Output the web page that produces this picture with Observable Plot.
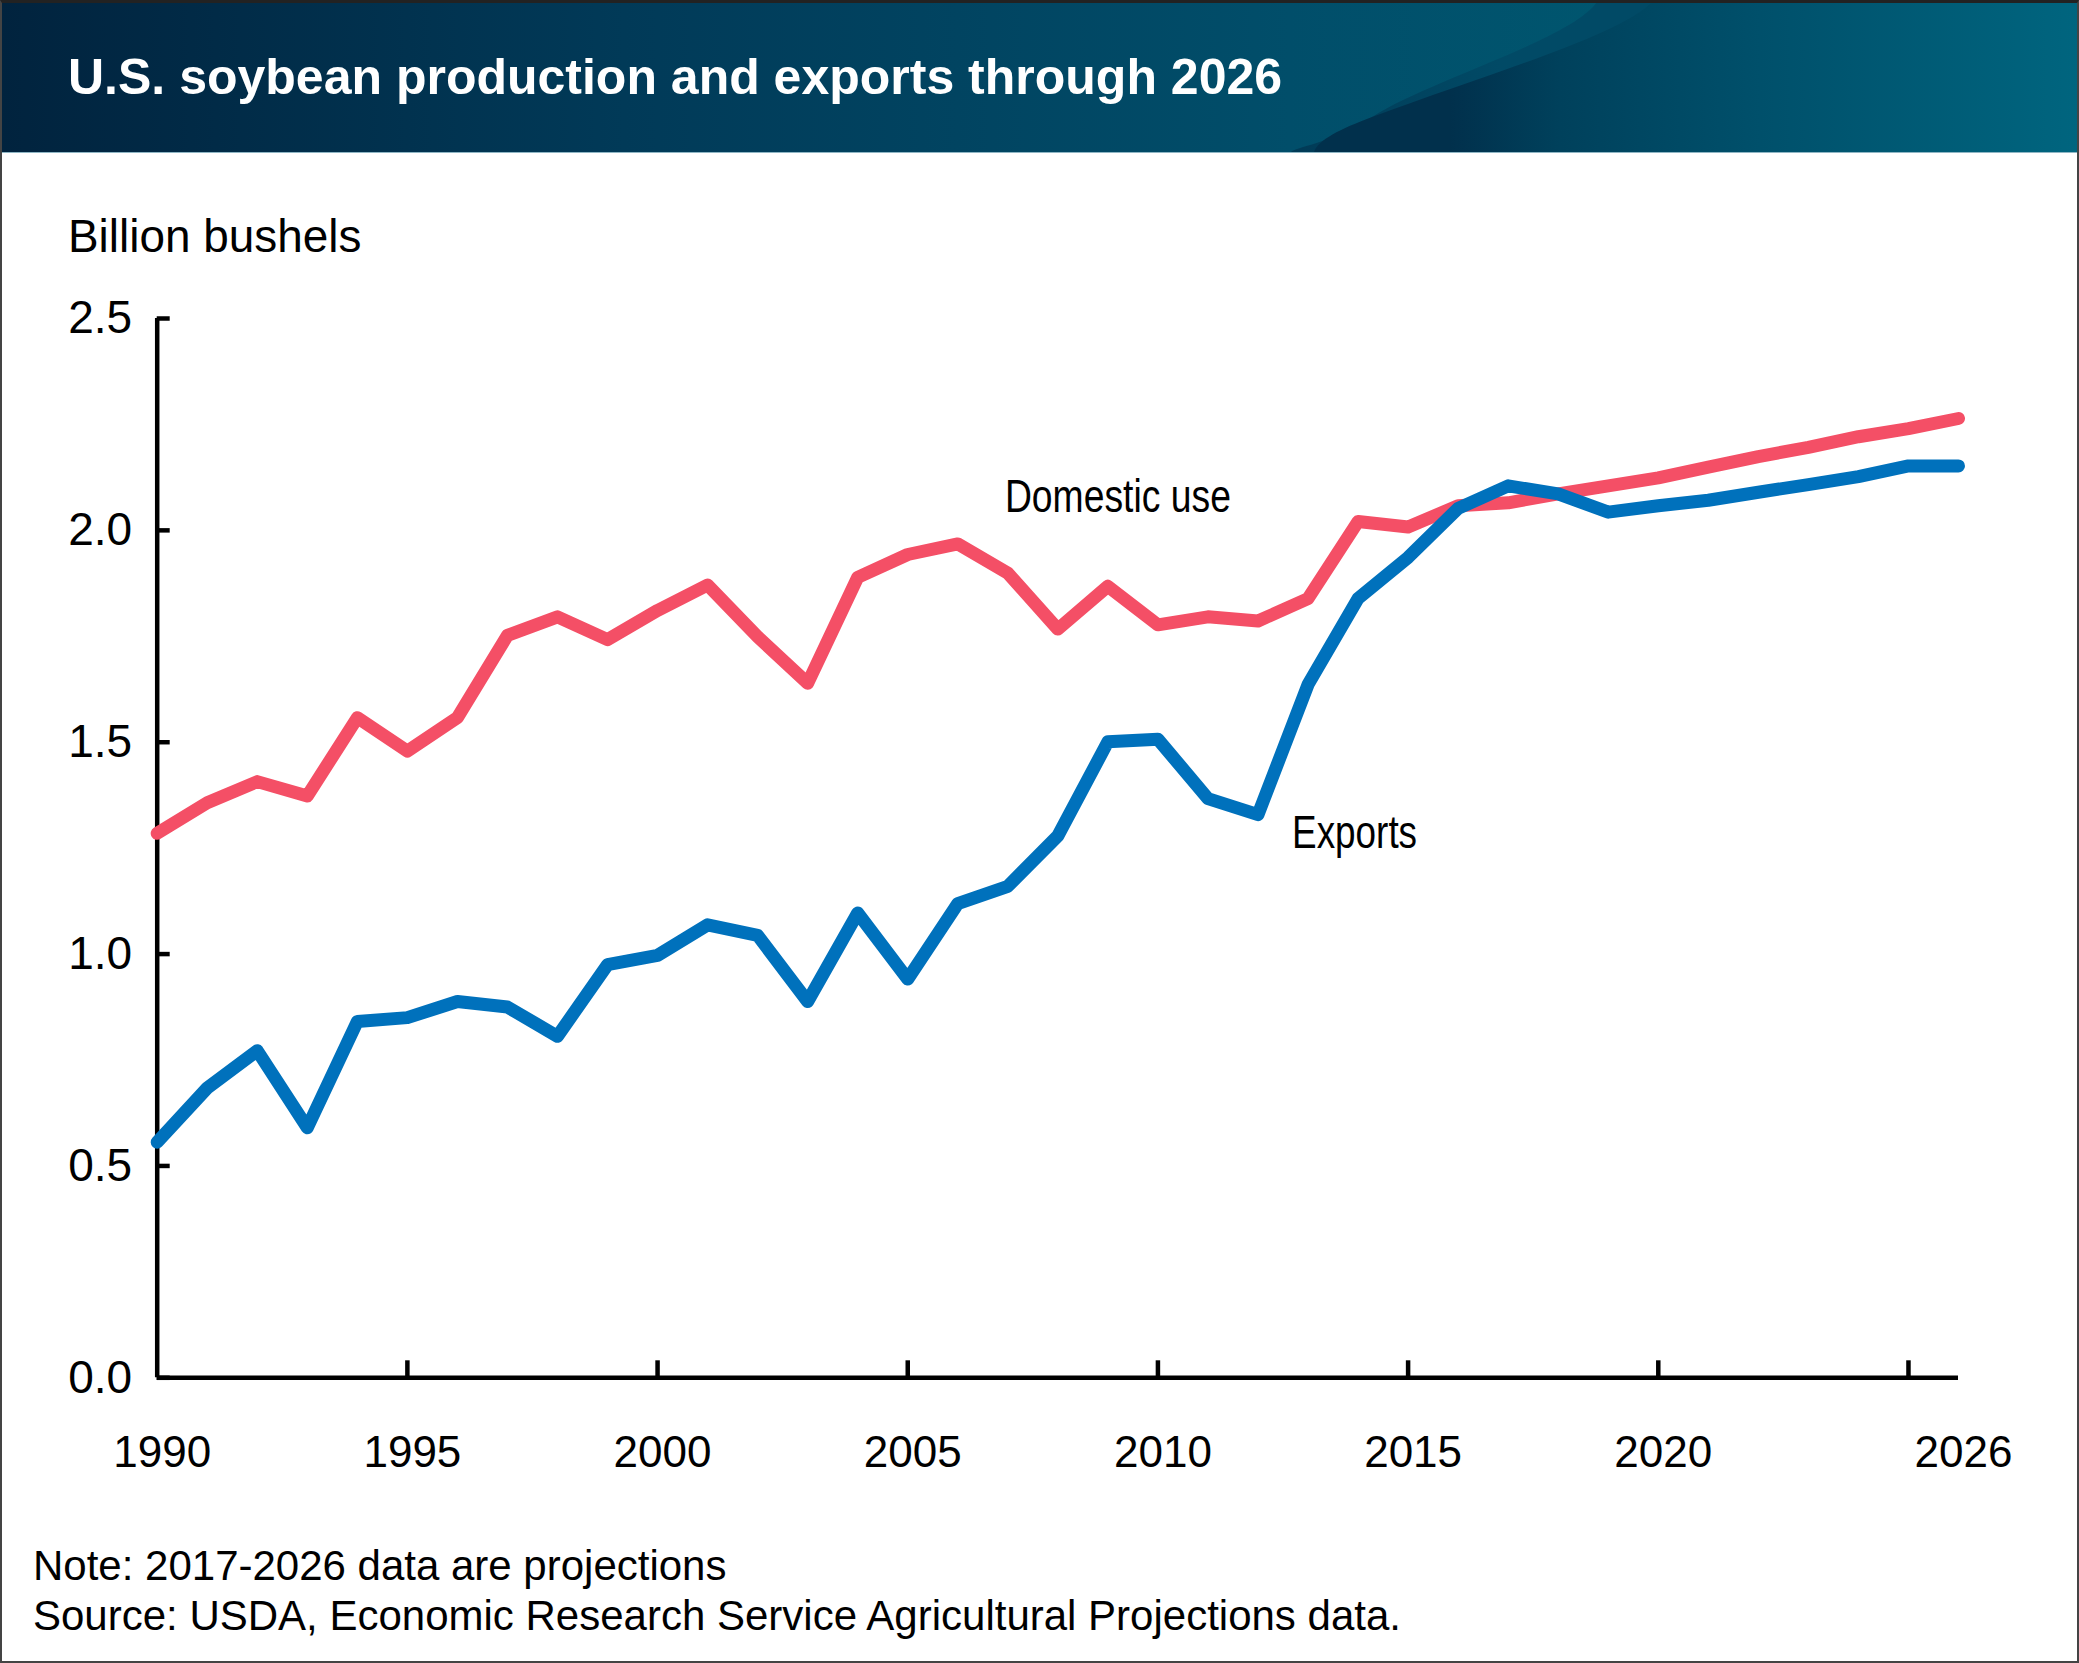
<!DOCTYPE html>
<html>
<head>
<meta charset="utf-8">
<script src="https://cdn.jsdelivr.net/npm/d3@7"></script>
<script src="https://cdn.jsdelivr.net/npm/@observablehq/plot@0.6"></script>
<style>
  html, body { margin: 0; padding: 0; background: #fff; }
  #page { position: relative; width: 2079px; height: 1663px; overflow: hidden; background: #fff;
          font-family: "Liberation Sans", Arial, sans-serif; color: #000; }
  #header { position: absolute; left: 0; top: 0; width: 2079px; height: 152px;
            background: linear-gradient(90deg, #01233e 0%, #013a58 30%, #014e6a 62%, #00566f 78%, #00657f 100%);
            border-bottom: 1px solid #8fb6c4; }
  #wave1, #wave2 { position: absolute; left: 0; top: 0; width: 2079px; height: 152px; }
  #wave1 { background: linear-gradient(90deg, #013a56 1290px, #014a66 1500px, #014a66 1660px);
           clip-path: path('M1597 2 C1570 40 1430 80 1372 117 C1330 144 1295 147 1291 152 L2079 152 L2079 2 Z'); }
  #wave2 { background: linear-gradient(90deg, #01304c 1310px, #01304c 1450px, #00415c 1560px, #00506b 1760px, #00657f 2079px);
           clip-path: path('M1652 2 C1620 35 1500 70 1372 117 C1340 129 1318 140 1314 152 L2079 152 L2079 2 Z'); }
  #title { position: absolute; left: 68px; top: 49px; font-weight: 700; font-size: 50px; line-height: 56px; color: #fff; white-space: nowrap; }
  #ylabel { position: absolute; left: 68px; top: 209px; font-size: 45.9px; line-height: 54px; white-space: nowrap; }
  #chart { position: absolute; left: 0; top: 270px; }
  #caption { position: absolute; left: 33px; top: 1541px; font-size: 42px; line-height: 50px; white-space: nowrap; }
  #frame { position: absolute; inset: 0; box-sizing: border-box; border: 2px solid #444; border-top: 3px solid #222; pointer-events: none; }
  svg text { font-family: "Liberation Sans", Arial, sans-serif; }
</style>
</head>
<body>
<div id="page">
  <div id="header"><div id="wave1"></div><div id="wave2"></div>
    <div id="title">U.S. soybean production and exports through 2026</div></div>
  <div id="ylabel">Billion bushels</div>
  <div id="chart"></div>
  <div id="caption">Note: 2017-2026 data are projections<br>Source: USDA, Economic Research Service Agricultural Projections data.</div>
  <div id="frame"></div>
</div>
<script>
const years = d3.range(1990, 2027);
const domesticUse = [1.285,1.357,1.407,1.373,1.558,1.479,1.558,1.752,1.796,1.742,1.811,1.871,1.749,1.639,1.889,1.943,1.968,1.899,1.767,1.868,1.777,1.796,1.786,1.839,2.021,2.008,2.058,2.065,2.086,2.105,2.124,2.149,2.174,2.196,2.221,2.240,2.264];
const exportsSeries = [0.556,0.684,0.772,0.590,0.841,0.850,0.888,0.875,0.806,0.975,0.997,1.069,1.044,0.888,1.097,0.941,1.119,1.160,1.279,1.501,1.507,1.367,1.329,1.636,1.839,1.936,2.052,2.105,2.086,2.043,2.058,2.071,2.090,2.108,2.127,2.152,2.152];
const xTickYears = [1995,2000,2005,2010,2015,2020,2025];
const xLabelYears = [1990,1995,2000,2005,2010,2015,2020,2026];
const yTicks = [0,0.5,1,1.5,2,2.5];
const labelNames = ["Domestic use","Exports"];
const labelYears = [2009.2,2013.93];
const labelValues = [2.079,1.285];
const labelLengths = {"Domestic use":226,"Exports":125};
const domesticRows = years.map((y,i)=>({year:y,value:domesticUse[i]}));
const exportRows = years.map((y,i)=>({year:y,value:exportsSeries[i]}));
const labelRows = labelNames.map((n,i)=>({name:n,year:labelYears[i],value:labelValues[i]}));

const plot = Plot.plot({
  width: 2079, height: 1260,
  marginLeft: 156.7, marginRight: 121, marginTop: 48, marginBottom: 152.7,
  style: {background:"transparent", overflow:"visible"},
  x: {domain:[1990,2026], label:null, type:"linear"},
  y: {domain:[0,2.5], label:null},
  marks: [
    Plot.axisX({ticks:xTickYears, anchor:"bottom", tickSize:-17, text:null, label:null, strokeWidth:4.5, stroke:"#000"}),
    Plot.axisX({ticks:xLabelYears, anchor:"bottom", tickSize:0, tickPadding:58, tickFormat:d=>String(d), fontSize:44, label:null, dx:5, fill:"#000"}),
    Plot.axisY({ticks:yTicks, anchor:"left", tickSize:-13, text:null, label:null, strokeWidth:4.5, stroke:"#000"}),
    Plot.axisY({ticks:yTicks, anchor:"left", tickSize:0, tickPadding:25, tickFormat:d3.format(".1f"), fontSize:46, label:null, fill:"#000"}),
    Plot.ruleY([0], {x1:1990, x2:2026, stroke:"#000", strokeWidth:4.5}),
    Plot.ruleX([1990], {y1:0, y2:2.5, stroke:"#000", strokeWidth:4.5}),
    Plot.line(domesticRows, {x:"year", y:"value", stroke:"#f44f66", strokeWidth:13, strokeLinecap:"round", strokeLinejoin:"round", curve:"linear"}),
    Plot.line(exportRows, {x:"year", y:"value", stroke:"#0071bc", strokeWidth:13, strokeLinecap:"round", strokeLinejoin:"round", curve:"linear"}),
    Plot.text(labelRows, {x:"year", y:"value", text:"name", fontSize:46, fill:"#000"})
  ]
});
// The two series labels are set in a condensed cut in the original.
d3.select(plot).selectAll("text").each(function () {
  const w = labelLengths[this.textContent];
  if (w) { this.setAttribute("textLength", w); this.setAttribute("lengthAdjust", "spacingAndGlyphs"); }
});
document.getElementById("chart").appendChild(plot);
</script>
</body>
</html>
